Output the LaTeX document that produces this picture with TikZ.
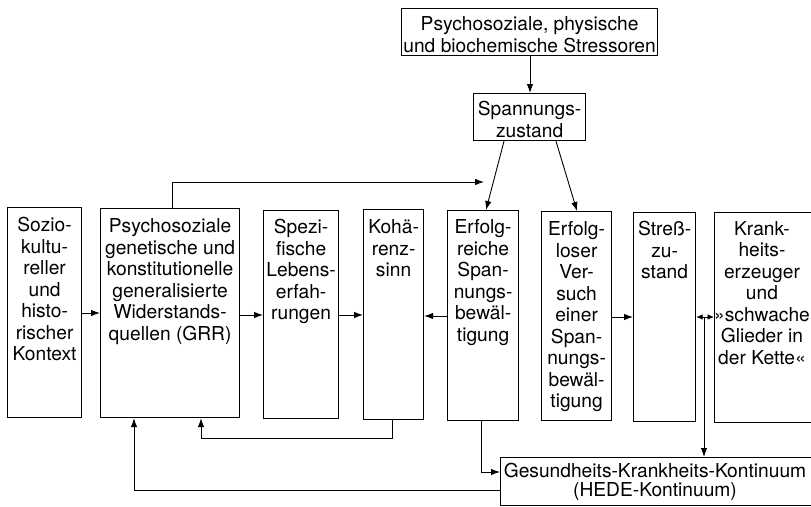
\documentclass[tikz,border=0pt]{standalone}
\usepackage{fontspec}
\setmainfont{TeX Gyre Heros}
\usetikzlibrary{arrows.meta}
\newcommand\btext[4]{\parbox[t][#2][t]{#1}{\centering\rule{0pt}{#3}#4}}
\begin{document}
\begin{tikzpicture}[x=1pt,y=-1pt,
  box/.style={draw, line width=1.2pt, inner sep=0pt, anchor=north west, font=\fontsize{19.2}{21.5}\selectfont},
  txt/.style={inner sep=0pt, font=\fontsize{19.2}{21.5}\selectfont},
  arr/.style={-{Latex[length=9pt,width=6.5pt]}, line width=0.9pt},
  dbl/.style={{Latex[length=6.5pt,width=5.5pt]}-{Latex[length=6.5pt,width=5.5pt]}, line width=0.9pt}]
\useasboundingbox (0,0) rectangle (811,506);

% top boxes
\node[box] (stressoren) at (401,8) {\btext{256pt}{47pt}{22pt}{Psychosoziale, physische\\und biochemische Stressoren}};
\node[box] (spann) at (473,93) {\btext{112pt}{47pt}{22pt}{Spannungs-\\zustand}};

% main row
\node[box] (sozio) at (7,207) {\btext{74pt}{210pt}{24pt}{Sozio-\\kultu-\\reller\\und\\histo-\\rischer\\Kontext}};
\node[box] (grr) at (100,208) {\btext{139pt}{209pt}{24pt}{Psychosoziale\\genetische und\\konstitutionelle\\generalisierte\\Widerstands-\\quellen (GRR)}};
\node[box] (spez) at (263,210) {\btext{75pt}{208pt}{23pt}{Spezi-\\fische\\Lebens-\\erfah-\\rungen}};
\node[box] (koh) at (363,209) {\btext{60pt}{210pt}{24pt}{Kohä-\\renz-\\sinn}};
\node[box] (erfr) at (447,210) {\btext{71pt}{210pt}{23pt}{Erfolg-\\reiche\\Span-\\nungs-\\bewäl-\\tigung}};
\node[box] (erfl) at (541,211) {\btext{70pt}{209pt}{24pt}{Erfolg-\\loser\\Ver-\\such\\einer\\Span-\\nungs-\\bewäl-\\tigung}};
\node[box] (stress) at (633,212) {\btext{62pt}{209pt}{23pt}{Streß-\\zu-\\stand}};
\node[box, minimum width=120pt, minimum height=210pt] (krank) at (714,212) {};
\node[txt, anchor=north] (kranktext) at (762,212) {\btext{96pt}{180pt}{23pt}{Krank-\\heits-\\erzeuger\\und\\»schwache\\Glieder in\\der Kette«}};

% bottom box
\node[box, minimum width=330pt, minimum height=47.5pt] (gesund) at (500,457) {};
\node[txt, anchor=north, font=\fontsize{19.2}{19}\selectfont] (gesundtext) at (655,457) {\btext{316pt}{45pt}{20pt}{Gesundheits-Krankheits-Kontinuum\\(HEDE-Kontinuum)}};

% coordinates
\coordinate (tipA) at (484,182);
\coordinate (junc) at (704,317);

% connectors
\draw[arr] (stressoren.south -| 530,0) -- (spann.north -| 530,0);
\draw[arr] (spann.south -| 504,0) -- (erfr.north -| 486,0);
\draw[arr] (spann.south -| 556,0) -- (erfl.north -| 577,0);
\draw[arr] (grr.north -| 172,0) |- (tipA);

\draw[arr] (sozio.east |- 0,313) -- (grr.west |- 0,313);
\draw[arr] (grr.east |- 0,315) -- (spez.west |- 0,315);
\draw[arr] (spez.east |- 0,315) -- (koh.west |- 0,315);
\draw[arr] (erfr.west |- 0,316) -- (koh.east |- 0,316);
\draw[arr] (erfl.east |- 0,317) -- (stress.west |- 0,317);
\draw[dbl] (stress.east |- 0,317) -- (krank.west |- 0,317);
\draw[arr] (junc) -- (gesund.north -| 704,0);

\draw[arr] (koh.south -| 392,0) |- (201,438) -- (grr.south -| 201,0);
\draw[arr] (erfr.south -| 481,0) |- (gesund.west |- 0,472);
\draw[arr] (gesund.west |- 0,490) -| (grr.south -| 134,0);
\end{tikzpicture}
\end{document}
